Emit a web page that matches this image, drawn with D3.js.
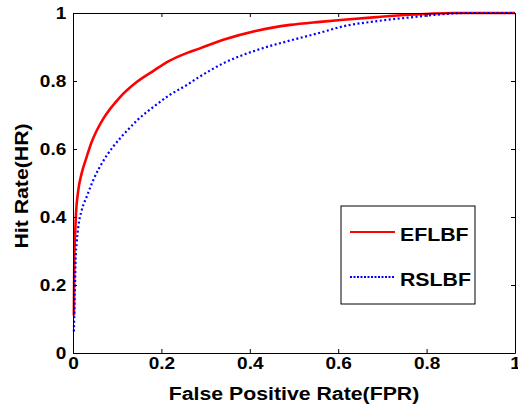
<!DOCTYPE html>
<html>
<head>
<meta charset="utf-8">
<script src="https://cdn.jsdelivr.net/npm/d3@7"></script>
<style>
  body { margin: 0; background: #fff; }
  text { font-family: "Liberation Sans", Arial, sans-serif; font-weight: bold; }
</style>
</head>
<body>
<div id="wrapper"></div>
<script>
// ROC curves
const fprEFLBF = [0.002, 0.0025, 0.003, 0.0045, 0.0068, 0.012, 0.0197, 0.031, 0.042, 0.054, 0.069, 0.106, 0.144, 0.182, 0.219, 0.257, 0.287, 0.340, 0.416, 0.491, 0.559, 0.612, 0.687, 0.762, 0.808, 0.86, 1];
const hrEFLBF  = [0.11, 0.2, 0.283, 0.342, 0.411, 0.479, 0.529, 0.577, 0.62, 0.655, 0.69, 0.752, 0.797, 0.83, 0.86, 0.882, 0.896, 0.921, 0.948, 0.965, 0.974, 0.98, 0.988, 0.995, 0.998, 1, 1];

const fprRSLBF = [0.002, 0.004, 0.006, 0.0083, 0.012, 0.0197, 0.031, 0.046, 0.069, 0.091, 0.121, 0.144, 0.182, 0.219, 0.257, 0.287, 0.340, 0.416, 0.491, 0.559, 0.612, 0.687, 0.762, 0.823, 0.886, 1];
const hrRSLBF  = [0.063, 0.17, 0.279, 0.323, 0.371, 0.42, 0.46, 0.509, 0.566, 0.607, 0.652, 0.683, 0.724, 0.759, 0.788, 0.813, 0.852, 0.891, 0.919, 0.942, 0.961, 0.976, 0.987, 0.995, 1, 1];

const seriesNames = ["EFLBF", "RSLBF"];
const tickValues = [0, 0.2, 0.4, 0.6, 0.8, 1];
const xTitle = "False Positive Rate(FPR)";
const yTitle = "Hit Rate(HR)";

const dimensions = {
  width: 518,
  height: 406,
  margin: { top: 13, right: 3, bottom: 53, left: 73 },
};
dimensions.boundedWidth = dimensions.width - dimensions.margin.left - dimensions.margin.right;
dimensions.boundedHeight = dimensions.height - dimensions.margin.top - dimensions.margin.bottom;

// the picture is a bit stretched sideways, so the text is too
const stretch = "scale(1.12,1)";

const wrapper = d3.select("#wrapper")
  .append("svg")
  .attr("width", dimensions.width)
  .attr("height", dimensions.height);

const bounds = wrapper.append("g")
  .attr("transform", `translate(${dimensions.margin.left},${dimensions.margin.top})`);

const xScale = d3.scaleLinear().domain([0, 1]).range([0, dimensions.boundedWidth]);
const yScale = d3.scaleLinear().domain([0, 1]).range([dimensions.boundedHeight, 0]);

const fmt = d => d === 0 || d === 1 ? String(d) : d3.format(".1f")(d);

// curves
const series = [
  { name: seriesNames[0], x: fprEFLBF, y: hrEFLBF, color: "#ff0000", width: 2.6, dash: null },
  { name: seriesNames[1], x: fprRSLBF, y: hrRSLBF, color: "#0000ff", width: 2.2, dash: "2,2.5" },
];

const line = d3.line()
  .x(d => xScale(d[0]))
  .y(d => yScale(d[1]))
  .curve(d3.curveMonotoneX);

series.forEach(s => {
  bounds.append("path")
    .datum(s.x.map((v, i) => [v, s.y[i]]))
    .attr("fill", "none")
    .attr("stroke", s.color)
    .attr("stroke-width", s.width)
    .attr("stroke-dasharray", s.dash)
    .attr("d", line);
});

// axes, MATLAB style: ticks pointing in, box all round
const xAxis = bounds.append("g")
  .attr("transform", `translate(0,${dimensions.boundedHeight})`)
  .call(d3.axisBottom(xScale).tickValues(tickValues).tickFormat(fmt).tickSize(-4).tickSizeOuter(0).tickPadding(4));
const yAxis = bounds.append("g")
  .call(d3.axisLeft(yScale).tickValues(tickValues).tickFormat(fmt).tickSize(-4).tickSizeOuter(0).tickPadding(6));
bounds.append("g")
  .call(d3.axisTop(xScale).tickValues(tickValues).tickFormat("").tickSize(-4).tickSizeOuter(0));
bounds.append("g")
  .attr("transform", `translate(${dimensions.boundedWidth},0)`)
  .call(d3.axisRight(yScale).tickValues(tickValues).tickFormat("").tickSize(-4).tickSizeOuter(0));

bounds.selectAll(".domain").attr("stroke", "#000");
bounds.selectAll(".tick line").attr("stroke", "#000");

xAxis.selectAll("text")
  .attr("font-size", 17)
  .attr("fill", "#000")
  .attr("transform", stretch);
yAxis.selectAll("text")
  .attr("font-size", 17)
  .attr("fill", "#000")
  .attr("transform", stretch);

// axis titles
wrapper.append("text")
  .attr("transform", `translate(${dimensions.margin.left + dimensions.boundedWidth / 2},400) ${stretch}`)
  .attr("text-anchor", "middle")
  .attr("font-size", 19)
  .text(xTitle);

wrapper.append("text")
  .attr("transform", `translate(28,${dimensions.margin.top + dimensions.boundedHeight / 2 + 3}) rotate(-90) ${stretch}`)
  .attr("text-anchor", "middle")
  .attr("font-size", 19)
  .text(yTitle);

// legend
const legend = wrapper.append("g").attr("transform", "translate(341,206)");
legend.append("rect")
  .attr("width", 134)
  .attr("height", 98)
  .attr("fill", "#fff")
  .attr("stroke", "#000")
  .attr("stroke-width", 1);

series.forEach((s, i) => {
  const y = 26 + i * 45;
  legend.append("line")
    .attr("x1", 9).attr("x2", 54)
    .attr("y1", y).attr("y2", y)
    .attr("stroke", s.color)
    .attr("stroke-width", i === 0 ? 2 : 1.8)
    .attr("stroke-dasharray", i === 0 ? null : "2,1.5");
  legend.append("text")
    .attr("transform", `translate(59,${y + 9}) ${stretch}`)
    .attr("font-size", 19)
    .text(s.name);
});
</script>
</body>
</html>
